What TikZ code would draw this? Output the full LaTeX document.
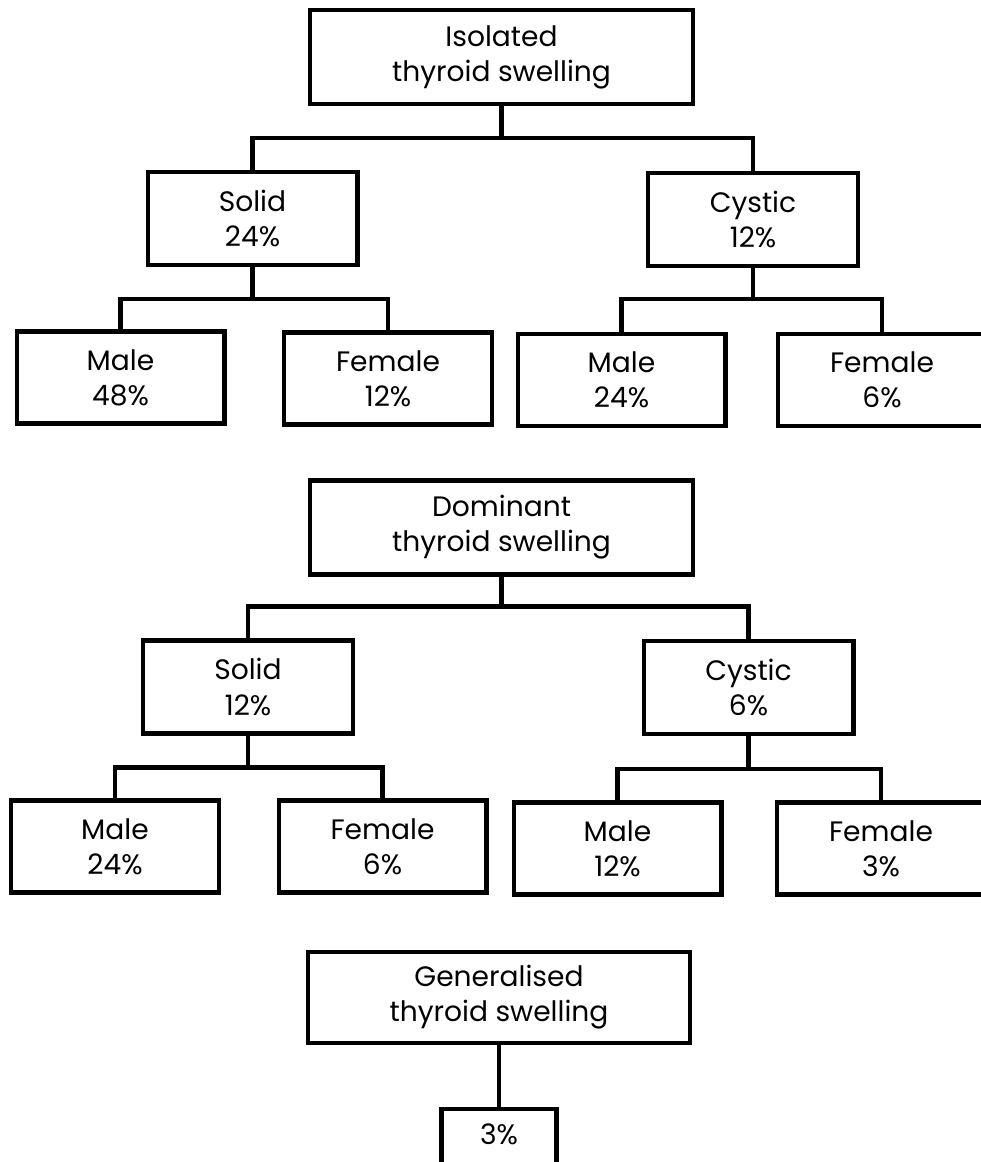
\documentclass[tikz,border=0pt]{standalone}
\usepackage{fontspec}
\setmainfont{Poppins}
\usepackage{tikz}
\newcommand{\corLinha}{black}
\newcommand{\espLinha}{2.3pt}

\tikzset{
  caixa/.style={draw=\corLinha, line width=\espLinha, align=center, inner sep=0pt,
    font=\fontsize{16}{20}\selectfont},
  topo/.style={caixa, minimum width=7.66cm, minimum height=1.88cm},
  meio/.style={caixa, minimum width=4.2cm, minimum height=1.86cm},
  folha/.style={caixa, minimum width=4.16cm, minimum height=1.84cm},
  liga/.style={draw=\corLinha, line width=\espLinha}
}

\begin{document}
\begin{tikzpicture}[x=0.02cm, y=-0.02cm]
        \useasboundingbox (0,0) rectangle (980,1162);

          % bloco 0 caixa 0
        \node[topo] (iso) at (501.5,57) {Isolated\\thyroid swelling};
        \node[meio] (sol1) at (252.5,218.5) {Solid\\24\%};
        \node[meio] (cys1) at (753,219.5) {Cystic\\12\%};
        \node[folha] (mal1) at (120.5,377.5) {Male\\48\%};
        \node[folha] (fem1) at (388,378.5) {Female\\12\%};
        \node[folha] (mal2) at (621.5,380) {Male\\24\%};
        \node[folha] (fem2) at (882,380) {Female\\6\%};

          % bloco 1 caixa 0
        \node[topo] (dom) at (501.5,527.5) {Dominant\\thyroid swelling};
        \node[meio] (sol2) at (248,687) {Solid\\12\%};
        \node[meio] (cys2) at (748.5,687.5) {Cystic\\6\%};
        \node[folha] (mal3) at (115,846.5) {Male\\24\%};
        \node[folha] (fem3) at (382.5,846.5) {Female\\6\%};
        \node[folha] (mal4) at (617.5,848.5) {Male\\12\%};
        \node[folha] (fem4) at (881,848.5) {Female\\3\%};

          % bloco 2 caixa 0
        \node[topo, minimum height=1.82cm] (gen) at (499,997.5) {Generalised\\thyroid swelling};
        \node[caixa, minimum width=2.3cm, minimum height=2.12cm, anchor=north] (pct) at (499,1107)
          {\raisebox{1.1cm}{3\%}};

          % ligacoes
        \draw[liga] (iso.south) -- ++(0,32) -| (sol1.north);
        \draw[liga] (iso.south) -- ++(0,32) -| (cys1.north);
        \draw[liga] (sol1.south) -- ++(0,32) -| (mal1.north);
        \draw[liga] (sol1.south) -- ++(0,32) -| (fem1.north);
        \draw[liga] (cys1.south) -- ++(0,31) -| (mal2.north);
        \draw[liga] (cys1.south) -- ++(0,31) -| (fem2.north);

        \draw[liga] (dom.south) -- ++(0,30) -| (sol2.north);
        \draw[liga] (dom.south) -- ++(0,30) -| (cys2.north);
        \draw[liga] (sol2.south) -- ++(0,32) -| (mal3.north);
        \draw[liga] (sol2.south) -- ++(0,32) -| (fem3.north);
        \draw[liga] (cys2.south) -- ++(0,33) -| (mal4.north);
        \draw[liga] (cys2.south) -- ++(0,33) -| (fem4.north);

        \draw[liga] (gen.south) -- (pct.north);
\end{tikzpicture}
\end{document}
